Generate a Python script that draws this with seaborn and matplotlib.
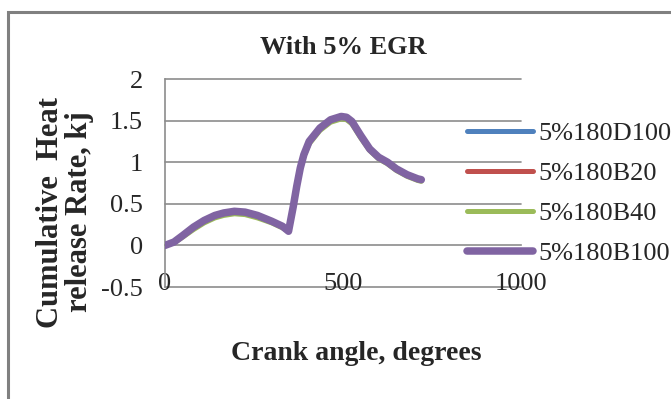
import matplotlib
matplotlib.use("Agg")
import matplotlib.pyplot as plt
import numpy as np
import pandas as pd
import seaborn as sns
from matplotlib.patches import Rectangle

sns.set_style("white")
plt.rcParams["font.family"] = ["Liberation Serif", "DejaVu Serif"]

# crank angle, degrees
crank = [0, 25, 50, 80, 110, 140, 165, 195, 225, 260, 300, 330, 347, 360,
         370, 380, 390, 405, 435, 465, 495, 510, 525, 550, 575, 600, 625,
         650, 680, 710, 720]

# cumulative heat release, kJ
d100 = [0.00, 0.04, 0.12, 0.21, 0.29, 0.35, 0.38, 0.40, 0.39, 0.35, 0.28,
        0.22, 0.17, 0.45, 0.70, 0.92, 1.08, 1.24, 1.40, 1.50, 1.54, 1.53,
        1.48, 1.31, 1.15, 1.05, 0.99, 0.91, 0.84, 0.79, 0.78]
b20 = [0.00, 0.04, 0.12, 0.21, 0.29, 0.35, 0.38, 0.40, 0.39, 0.35, 0.28,
       0.22, 0.17, 0.45, 0.70, 0.92, 1.08, 1.24, 1.40, 1.50, 1.54, 1.53,
       1.48, 1.31, 1.15, 1.05, 0.99, 0.91, 0.84, 0.79, 0.78]
b40 = [0.00, 0.03, 0.10, 0.19, 0.27, 0.33, 0.36, 0.38, 0.37, 0.33, 0.27,
       0.21, 0.17, 0.44, 0.69, 0.91, 1.07, 1.22, 1.38, 1.48, 1.52, 1.51,
       1.46, 1.29, 1.14, 1.04, 0.98, 0.90, 0.83, 0.78, 0.77]
b100 = [0.00, 0.04, 0.12, 0.22, 0.30, 0.36, 0.39, 0.41, 0.40, 0.36, 0.29,
        0.23, 0.17, 0.46, 0.71, 0.93, 1.09, 1.25, 1.41, 1.51, 1.55, 1.54,
        1.49, 1.32, 1.16, 1.06, 1.00, 0.92, 0.85, 0.80, 0.79]

labels = ["5%180D100", "5%180B20", "5%180B40", "5%180B100"]
colors = ["#4F81BD", "#C0504D", "#9BBB59", "#8064A2"]
widths = [3.6, 3.6, 3.6, 5.4]

df = pd.DataFrame({"crank": crank * 4,
                   "heat": d100 + b20 + b40 + b100,
                   "series": np.repeat(labels, len(crank))})

fig = plt.figure(figsize=(6.71, 3.99), dpi=100)
ax = fig.add_axes([165 / 671, 1 - 287 / 399, 356 / 671, 208 / 399])

grid_col = "#8c8c8c"
for yv in [-0.5, 0.5, 1, 1.5, 2]:
    ax.axhline(yv, color=grid_col, lw=1.2, zorder=0, clip_on=False)

for lab, col, lw in zip(labels, colors, widths):
    sns.lineplot(data=df[df.series == lab], x="crank", y="heat", ax=ax,
                 color=col, lw=lw, label=lab, solid_capstyle="round",
                 solid_joinstyle="round", zorder=3)

ax.set_xlim(0, 1000)
ax.set_ylim(-0.5, 2)
ax.set_xticks([0, 500, 1000])
ax.set_yticks([-0.5, 0, 0.5, 1, 1.5, 2])
ax.set_yticklabels(["-0.5", "0", "0.5", "1", "1.5", "2"])

for s in ["top", "right"]:
    ax.spines[s].set_visible(False)
ax.spines["left"].set_color(grid_col)
ax.spines["left"].set_linewidth(1.2)
ax.spines["bottom"].set_position(("data", 0))
ax.spines["bottom"].set_color(grid_col)
ax.spines["bottom"].set_linewidth(1.2)

ax.tick_params(axis="x", direction="out", length=6, width=1.2, color=grid_col,
               pad=14, labelsize=19)
ax.tick_params(axis="y", length=0, pad=16, labelsize=19)

ax.set_title("With 5% EGR", fontsize=19, fontweight="bold", pad=18)
ax.set_xlabel("Crank angle, degrees", fontsize=20, fontweight="bold")
ax.xaxis.set_label_coords(0.537, -0.26)
ax.set_ylabel("Cumulative  Heat\nrelease Rate, kj", fontsize=22,
              fontweight="bold", va="center", linespacing=1.0)
ax.yaxis.set_label_coords(-0.28, 0.36)

ax.get_legend().remove()
handles, hl = ax.get_legend_handles_labels()
fig.legend(handles, hl, loc="upper left", bbox_to_anchor=(467 / 671, 1 - 122 / 399),
           frameon=False, fontsize=19, handlelength=2.5, handletextpad=0.2,
           borderpad=0, borderaxespad=0, labelspacing=0.62)

fig.patches.append(Rectangle((8 / 671, -0.05), 1.0, 1 - 12 / 399 + 0.05,
                             transform=fig.transFigure, fill=False,
                             edgecolor="#808080", lw=2.2))

fig.savefig("out.png", dpi=100)
